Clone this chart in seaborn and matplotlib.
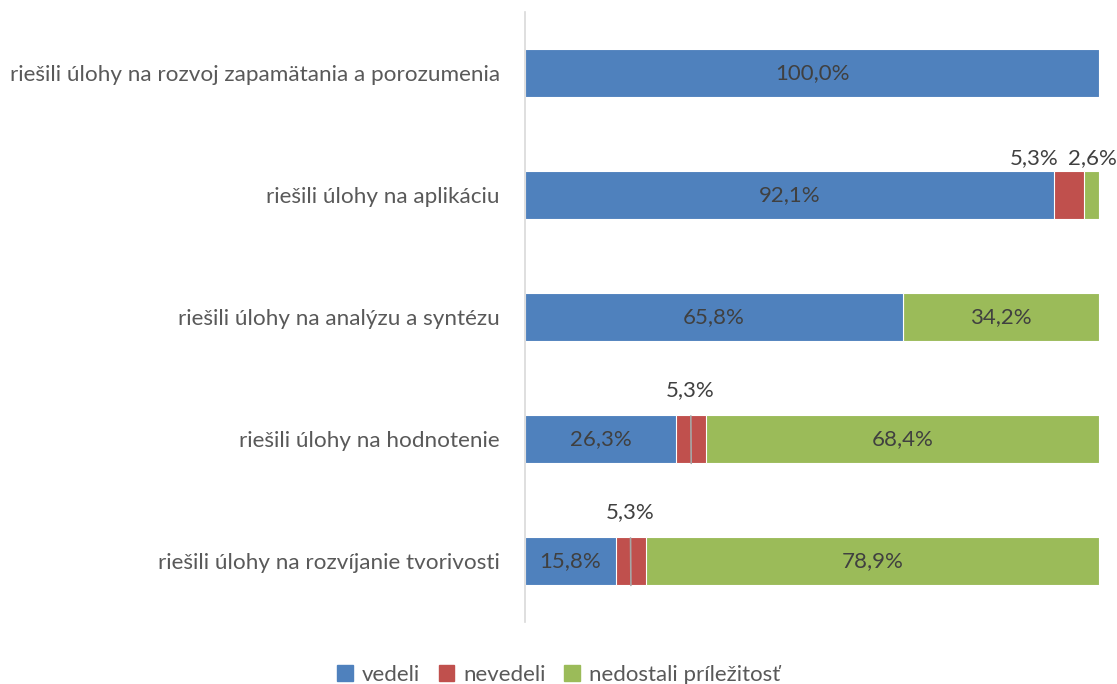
import numpy as np
import pandas as pd
import matplotlib
matplotlib.use('Agg')
import matplotlib.pyplot as plt
import seaborn as sns

#Data
categories = ['riešili úlohy na rozvoj zapamätania a porozumenia',
              'riešili úlohy na aplikáciu',
              'riešili úlohy na analýzu a syntézu',
              'riešili úlohy na hodnotenie',
              'riešili úlohy na rozvíjanie tvorivosti']
vedeli = [100.0, 92.1, 65.8, 26.3, 15.8]
nevedeli = [0.0, 5.3, 0.0, 5.3, 5.3]
nedostali = [0.0, 2.6, 34.2, 68.4, 78.9]
series_names = ['vedeli', 'nevedeli', 'nedostali príležitosť']
colors = ['#4F81BD', '#C0504D', '#9BBB59']

df = pd.DataFrame({'cat': categories,
                   'vedeli': vedeli,
                   'nevedeli': nevedeli,
                   'nedostali': nedostali})
df['c1'] = df['vedeli']
df['c2'] = df['vedeli'] + df['nevedeli']
df['c3'] = df['c2'] + df['nedostali']

sns.set_theme(style='white')
plt.rcParams['font.family'] = ['Lato', 'DejaVu Sans']

fig = plt.figure(figsize=(11.17, 6.84), dpi=100)
ax = fig.add_axes([0.470, 0.0906, 0.514, 0.892])

#Layered bars: draw the cumulative totals back to front
for col, color in zip(['c3', 'c2', 'c1'], colors[::-1]):
    sns.barplot(data=df, x=col, y='cat', orient='h', color=color,
                width=0.4, edgecolor='white', linewidth=0.8,
                saturation=1, ax=ax)

ax.set_xlim(0, 100)
ax.set_ylim(4.5, -0.5)
ax.set_xlabel('')
ax.set_ylabel('')
ax.set_xticks([])
ax.tick_params(axis='y', length=0, pad=18, labelsize=16.2, labelcolor='#595959')
for s in ['top', 'right', 'bottom']:
    ax.spines[s].set_visible(False)
ax.spines['left'].set_color('#D9D9D9')
ax.spines['left'].set_linewidth(1.2)

def fmt(v):
    return f'{v:.1f}%'.replace('.', ',')

lab_kw = dict(fontsize=16, color='#404040')
for i in range(len(categories)):
    segs = [(0, vedeli[i]), (df['c1'][i], nevedeli[i]), (df['c2'][i], nedostali[i])]
    for k, (start, w) in enumerate(segs):
        if w <= 0:
            continue
        mid = start + w / 2
        if w >= 10:
            ax.text(mid, i, fmt(w), ha='center', va='center', **lab_kw)
        elif i == 1:
            #labels above the bar, no leader line
            dx = -6 if k == 1 else 0.2
            ax.text(mid + dx, i - 0.3, fmt(w), ha='center', va='center', **lab_kw)
        else:
            ax.annotate(fmt(w), xy=(mid, i + 0.2), xytext=(mid - 0.1, i - 0.4),
                        ha='center', va='center', **lab_kw,
                        arrowprops=dict(arrowstyle='-', color='#A6A6A6', lw=1.2,
                                        shrinkA=9, shrinkB=0))

handles = [plt.Rectangle((0, 0), 1, 1, color=c) for c in colors]
fig.legend(handles, series_names, loc='lower center', ncol=3, frameon=False,
           bbox_to_anchor=(0.5, -0.03), fontsize=16, handlelength=0.7,
           handleheight=0.7, handletextpad=0.4, columnspacing=0.85,
           labelcolor='#595959')

fig.savefig('out.png', dpi=100)
